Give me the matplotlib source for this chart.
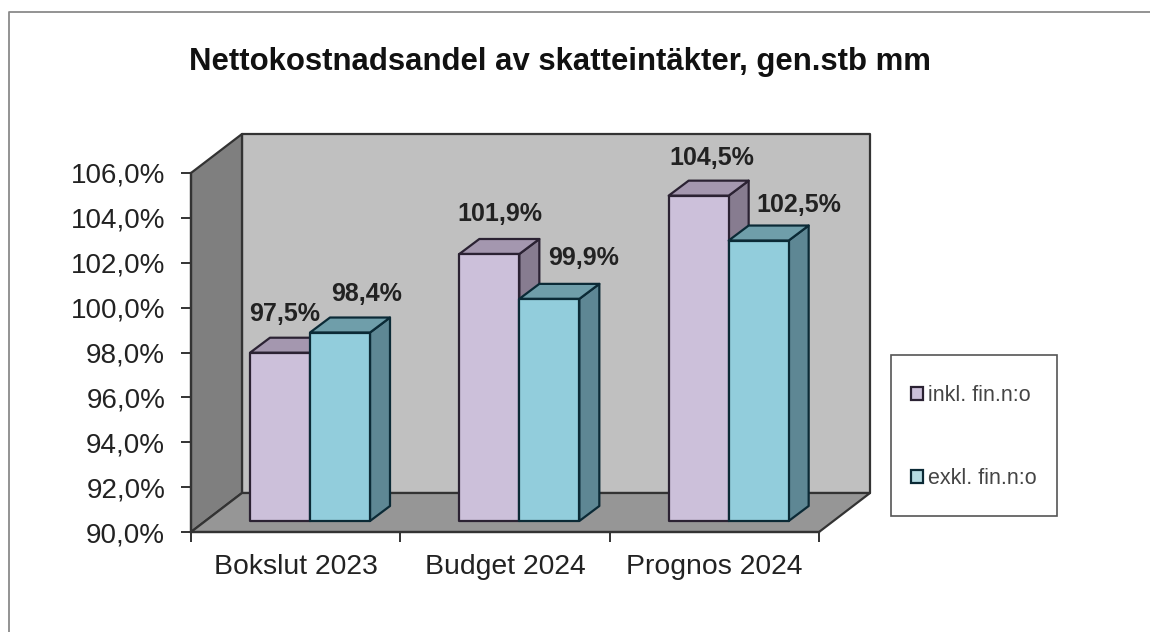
import numpy as np
import matplotlib
matplotlib.use('Agg')
import matplotlib.pyplot as plt
from matplotlib.patches import Patch, Polygon, Rectangle

plt.rcParams['font.family'] = ['Liberation Sans', 'DejaVu Sans']

# Data
title = 'Nettokostnadsandel av skatteintäkter, gen.stb mm'
categories = ['Bokslut 2023', 'Budget 2024', 'Prognos 2024']
inkl = [97.5, 101.9, 104.5]
exkl = [98.4, 99.9, 102.5]
series_names = ['inkl. fin.n:o', 'exkl. fin.n:o']
y_ticks = [90, 92, 94, 96, 98, 100, 102, 104, 106]

# Style
W, H = 1150, 632
pink = ('#CCC0DA', '#A497AF', '#877C90', '#2B2233')
blue = ('#92CDDC', '#6F9EAA', '#5E8794', '#0B2A36')
label_shift = [[(5, 39), (27, 39)], [(11, 40), (34, 41)], [(13, 38), (40, 36)]]

fig = plt.figure(figsize=(W / 100, H / 100), dpi=100, facecolor='white')
ax = fig.add_axes([191 / W, 1 - 532 / H, 628 / W, 359 / H])
ax.set_xlim(0, 3)
ax.set_ylim(90, 106)

# sizes in data units, from pixels
px_x = 3 / 628
px_y = 16 / 359
wall_dx, wall_dy = 51 * px_x, 39 * px_y
bar_dx, bar_dy = 20 * px_x, 15 * px_y
bar_w = 60 * px_x
bar_start = 59 * px_x
bar_lift = 11 * px_y  # bars stand inside the floor, not on its front edge
bar_base = 90 + bar_lift


def poly(pts, face, edge, lw=1.6, z=1):
    ax.add_patch(Polygon(pts, closed=True, facecolor=face, edgecolor=edge,
                         linewidth=lw, joinstyle='round', clip_on=False, zorder=z))


# walls and floor
wall_edge = '#333333'
poly([(wall_dx, 90 + wall_dy), (3 + wall_dx, 90 + wall_dy), (3 + wall_dx, 106 + wall_dy),
      (wall_dx, 106 + wall_dy)], '#C0C0C0', wall_edge)
poly([(0, 90), (wall_dx, 90 + wall_dy), (wall_dx, 106 + wall_dy), (0, 106)], '#7F7F7F', wall_edge)
poly([(0, 90), (3, 90), (3 + wall_dx, 90 + wall_dy), (wall_dx, 90 + wall_dy)], '#969696', wall_edge)


def bar3d(x, val, cols, z):
    front, top, side, edge = cols
    val = val + bar_lift
    poly([(x + bar_w, bar_base), (x + bar_w + bar_dx, bar_base + bar_dy),
          (x + bar_w + bar_dx, val + bar_dy), (x + bar_w, val)], side, edge, z=z)
    poly([(x, val), (x + bar_dx, val + bar_dy), (x + bar_w + bar_dx, val + bar_dy),
          (x + bar_w, val)], top, edge, z=z)
    poly([(x, bar_base), (x + bar_w, bar_base), (x + bar_w, val), (x, val)], front, edge, z=z)


for i in range(len(categories)):
    x0 = i + bar_start
    bar3d(x0, inkl[i], pink, 2 + i)
    bar3d(x0 + bar_w, exkl[i], blue, 2.5 + i)
    for j, (xx, val) in enumerate([(x0, inkl[i]), (x0 + bar_w, exkl[i])]):
        ax.annotate(f'{val:.1f}%'.replace('.', ','), (xx + bar_w / 2, val + bar_lift),
                    xytext=(label_shift[i][j][0] * 0.72, label_shift[i][j][1] * 0.72),
                    textcoords='offset points', ha='center', va='center',
                    fontsize=18, fontweight='bold', color='#222222', zorder=10,
                    annotation_clip=False)

# axes
ax.set_yticks(y_ticks)
ax.set_yticklabels([f'{v},0%' for v in y_ticks], fontsize=20, color='#222222')
ax.set_xticks(np.arange(len(categories) + 1))
ax.set_xticklabels([])
ax.set_xticks(np.arange(len(categories)) + 0.5, minor=True)
ax.set_xticklabels(categories, minor=True, fontsize=20.4, color='#222222')
ax.tick_params(axis='x', which='minor', length=0, pad=16)
ax.tick_params(axis='x', which='major', length=7, width=1.4, color='#333333')
ax.tick_params(axis='y', length=7, width=1.4, color='#333333', pad=11.6)
for s in ['top', 'right']:
    ax.spines[s].set_visible(False)
for s in ['left', 'bottom']:
    ax.spines[s].set_linewidth(1.6)
    ax.spines[s].set_color('#333333')
    ax.spines[s].set_zorder(9)
ax.patch.set_visible(False)

# title
fig.text(560 / W, 1 - 62 / H, title, ha='center', va='center', fontsize=22.4,
         fontweight='bold', color='#111111')

# outer frame
fig.add_artist(plt.Line2D([9 / W, 9 / W, 1], [0, 1 - 12 / H, 1 - 12 / H], color='#8A8A8A', linewidth=1.3))

# legend
fig.add_artist(Rectangle((891 / W, 1 - 516 / H), 166 / W, 161 / H, transform=fig.transFigure,
                         facecolor='white', edgecolor='#555555', linewidth=1.2))
handles = [Patch(facecolor=pink[0], edgecolor=pink[3], linewidth=1.6),
           Patch(facecolor='#B5DCE3', edgecolor=blue[3], linewidth=1.6)]
fig.legend(handles, series_names, loc='center left', bbox_to_anchor=(892 / W, 1 - 437 / H),
           frameon=False, fontsize=15.5, labelcolor='#444444', handlelength=0.55, handleheight=0.55,
           handletextpad=0.2, labelspacing=2.85)

fig.savefig('out.png', dpi=100)
